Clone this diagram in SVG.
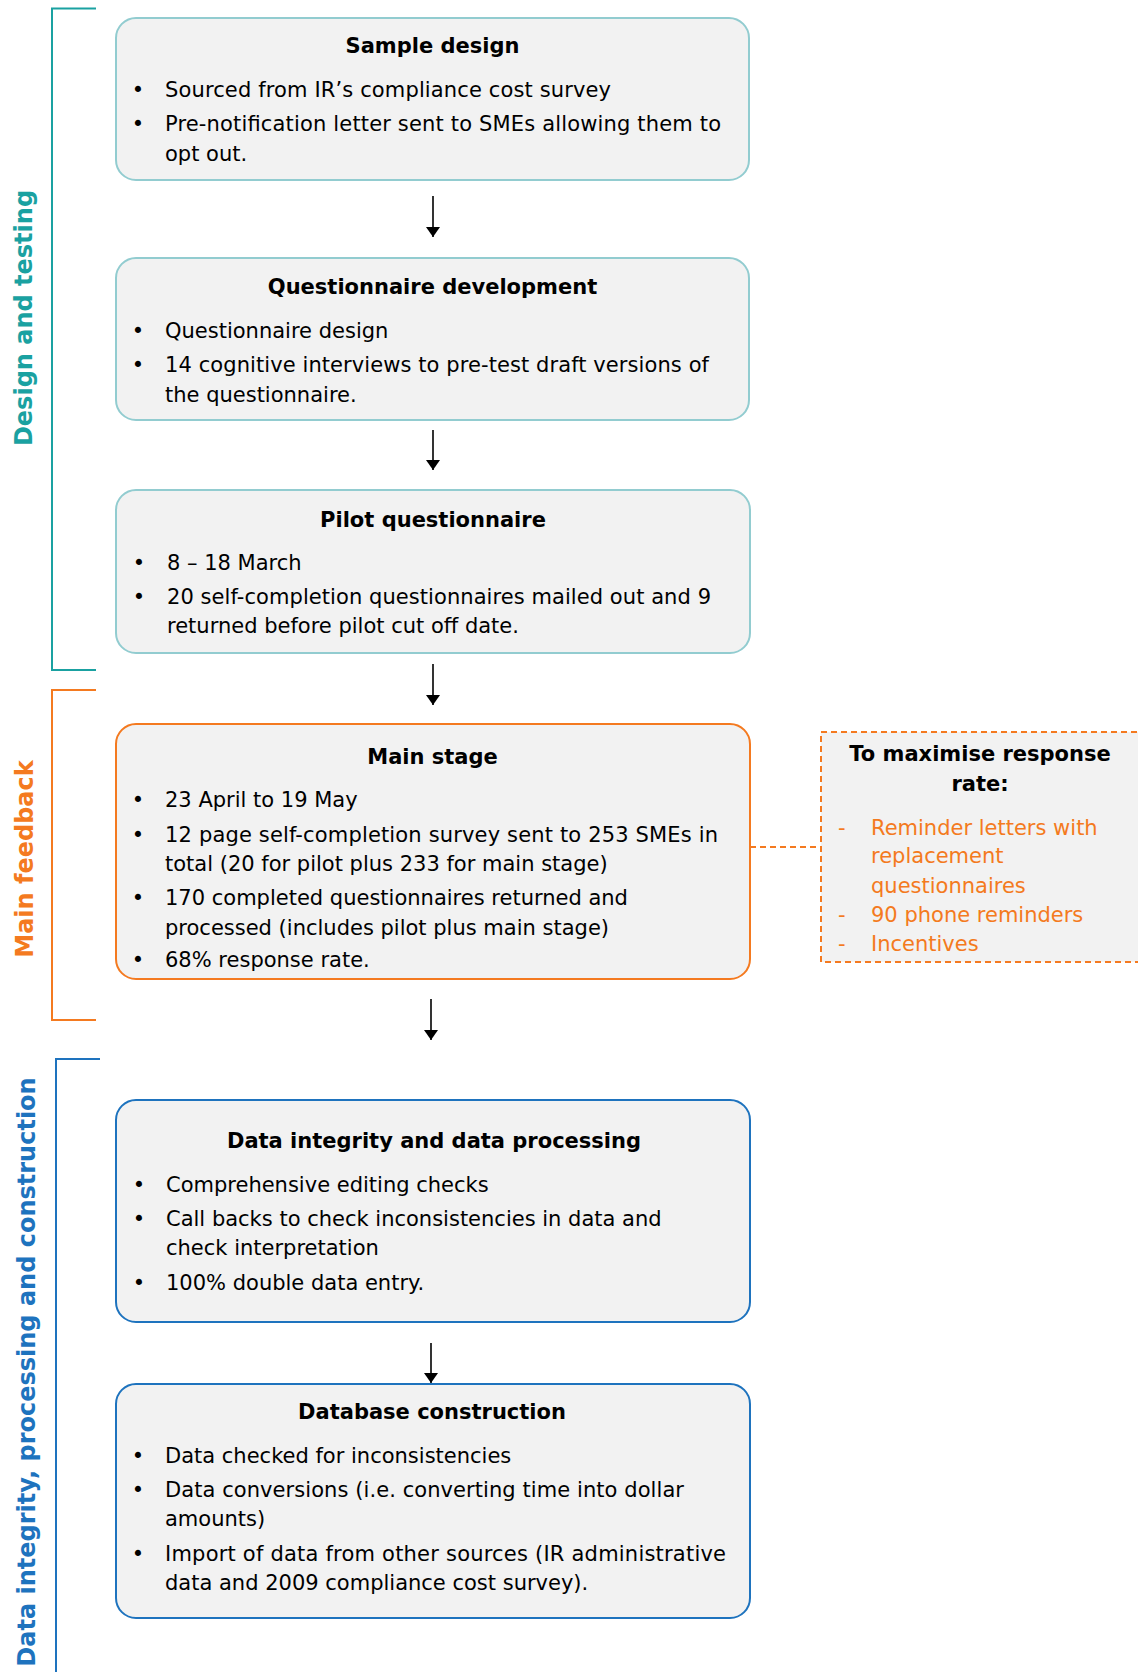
<svg xmlns="http://www.w3.org/2000/svg" width="1138" height="1672" viewBox="0 0 1138 1672">
<defs>
<marker id="ah" viewBox="0 0 10 14" refX="10" refY="7" markerWidth="10" markerHeight="14" markerUnits="userSpaceOnUse" orient="auto">
<path d="M0,0 L10,7 L0,14 Z" fill="#000"/>
</marker>
<style>
.box{fill:#F2F2F2;stroke-width:2}
.teal{stroke:#92CCD0}
.org{stroke:#F47A20}
.blu{stroke:#1E73BE}
.t{font-family:"DejaVu Sans","Liberation Sans",sans-serif;font-size:21px;fill:#000}
.b{font-family:"DejaVu Sans","Liberation Sans",sans-serif;font-size:21px;font-weight:bold;fill:#000;text-anchor:middle}
.bu{font-family:"DejaVu Sans","Liberation Sans",sans-serif;font-size:21px;fill:#000;text-anchor:middle}
.o{font-family:"DejaVu Sans","Liberation Sans",sans-serif;font-size:21px;fill:#F47A20}
.side{font-family:"DejaVu Sans","Liberation Sans",sans-serif;font-size:24px;font-weight:bold;text-anchor:middle}
.arr{stroke:#000;stroke-width:1.6;fill:none}
.br{fill:none;stroke-width:2}
</style>
</defs>

<g id="brackets">
<path class="br" d="M96,8.5 H52 V670 H96" stroke="#1AA1A1"/>
<path class="br" d="M96,690 H52 V1020 H96" stroke="#F47A20"/>
<path class="br" d="M100,1059 H56 V1672" stroke="#1E73BE"/>
<text class="side" transform="translate(32,318) rotate(-90)" fill="#1AA1A1">Design and testing</text>
<text class="side" transform="translate(33,859) rotate(-90)" fill="#F47A20">Main feedback</text>
<text class="side" transform="translate(35,1372) rotate(-90)" fill="#1E73BE">Data integrity, processing and construction</text>
</g>

<g id="connectors">
<line class="arr" x1="433" y1="196" x2="433" y2="237" marker-end="url(#ah)"/>
<line class="arr" x1="433" y1="430" x2="433" y2="470" marker-end="url(#ah)"/>
<line class="arr" x1="433" y1="664" x2="433" y2="705" marker-end="url(#ah)"/>
<line class="arr" x1="431" y1="999" x2="431" y2="1040" marker-end="url(#ah)"/>
<line class="arr" x1="431" y1="1343" x2="431" y2="1383" marker-end="url(#ah)"/>
<line x1="750" y1="847" x2="820" y2="847" stroke="#F47A20" stroke-width="2" stroke-dasharray="6,4"/>
</g>

<g id="sample-design">
<rect class="box teal" x="116" y="18" width="633" height="162" rx="20"/>
<text class="b" x="432.5" y="53">Sample design</text>
<text class="bu" x="138" y="97">•</text>
<text class="t" x="165" y="97" textLength="446" lengthAdjust="spacing">Sourced from IR’s compliance cost survey</text>
<text class="bu" x="138" y="131">•</text>
<text class="t" x="165" y="131" textLength="556" lengthAdjust="spacing">Pre-notification letter sent to SMEs allowing them to</text>
<text class="t" x="165" y="161">opt out.</text>
</g>

<g id="questionnaire-development">
<rect class="box teal" x="116" y="258" width="633" height="162" rx="20"/>
<text class="b" x="432.5" y="294">Questionnaire development</text>
<text class="bu" x="138" y="338">•</text>
<text class="t" x="165" y="338">Questionnaire design</text>
<text class="bu" x="138" y="372">•</text>
<text class="t" x="165" y="372" textLength="544" lengthAdjust="spacing">14 cognitive interviews to pre-test draft versions of</text>
<text class="t" x="165" y="402">the questionnaire.</text>
</g>

<g id="pilot-questionnaire">
<rect class="box teal" x="116" y="490" width="634" height="163" rx="20"/>
<text class="b" x="433" y="527">Pilot questionnaire</text>
<text class="bu" x="139" y="570">•</text>
<text class="t" x="167" y="570">8 – 18 March</text>
<text class="bu" x="139" y="604">•</text>
<text class="t" x="167" y="604" textLength="544" lengthAdjust="spacing">20 self-completion questionnaires mailed out and 9</text>
<text class="t" x="167" y="633">returned before pilot cut off date.</text>
</g>

<g id="main-stage">
<rect class="box org" x="116" y="724" width="634" height="255" rx="20"/>
<text class="b" x="432.5" y="764">Main stage</text>
<text class="bu" x="138" y="807">•</text>
<text class="t" x="165" y="807">23 April to 19 May</text>
<text class="bu" x="138" y="842">•</text>
<text class="t" x="165" y="842" textLength="553" lengthAdjust="spacing">12 page self-completion survey sent to 253 SMEs in</text>
<text class="t" x="165" y="871">total (20 for pilot plus 233 for main stage)</text>
<text class="bu" x="138" y="905">•</text>
<text class="t" x="165" y="905">170 completed questionnaires returned and</text>
<text class="t" x="165" y="935">processed (includes pilot plus main stage)</text>
<text class="bu" x="138" y="967">•</text>
<text class="t" x="165" y="967">68% response rate.</text>
</g>

<g id="maximise-response">
<rect x="821" y="732" width="320" height="230" fill="#F2F2F2" stroke="#F47A20" stroke-width="2" stroke-dasharray="6,4"/>
<text class="b" x="980" y="761">To maximise response</text>
<text class="b" x="980" y="791">rate:</text>
<text class="o" x="838" y="835">-</text>
<text class="o" x="871" y="835">Reminder letters with</text>
<text class="o" x="871" y="863">replacement</text>
<text class="o" x="871" y="893">questionnaires</text>
<text class="o" x="838" y="922">-</text>
<text class="o" x="871" y="922">90 phone reminders</text>
<text class="o" x="838" y="951">-</text>
<text class="o" x="871" y="951">Incentives</text>
</g>

<g id="data-integrity">
<rect class="box blu" x="116" y="1100" width="634" height="222" rx="20"/>
<text class="b" x="434" y="1148">Data integrity and data processing</text>
<text class="bu" x="139" y="1192">•</text>
<text class="t" x="166" y="1192">Comprehensive editing checks</text>
<text class="bu" x="139" y="1226">•</text>
<text class="t" x="166" y="1226">Call backs to check inconsistencies in data and</text>
<text class="t" x="166" y="1255">check interpretation</text>
<text class="bu" x="139" y="1290">•</text>
<text class="t" x="166" y="1290">100% double data entry.</text>
</g>

<g id="database-construction">
<rect class="box blu" x="116" y="1384" width="634" height="234" rx="20"/>
<text class="b" x="432" y="1419">Database construction</text>
<text class="bu" x="138" y="1463">•</text>
<text class="t" x="165" y="1463">Data checked for inconsistencies</text>
<text class="bu" x="138" y="1497">•</text>
<text class="t" x="165" y="1497" textLength="519" lengthAdjust="spacing">Data conversions (i.e. converting time into dollar</text>
<text class="t" x="165" y="1526">amounts)</text>
<text class="bu" x="138" y="1561">•</text>
<text class="t" x="165" y="1561" textLength="561" lengthAdjust="spacing">Import of data from other sources (IR administrative</text>
<text class="t" x="165" y="1590">data and 2009 compliance cost survey).</text>
</g>
</svg>
